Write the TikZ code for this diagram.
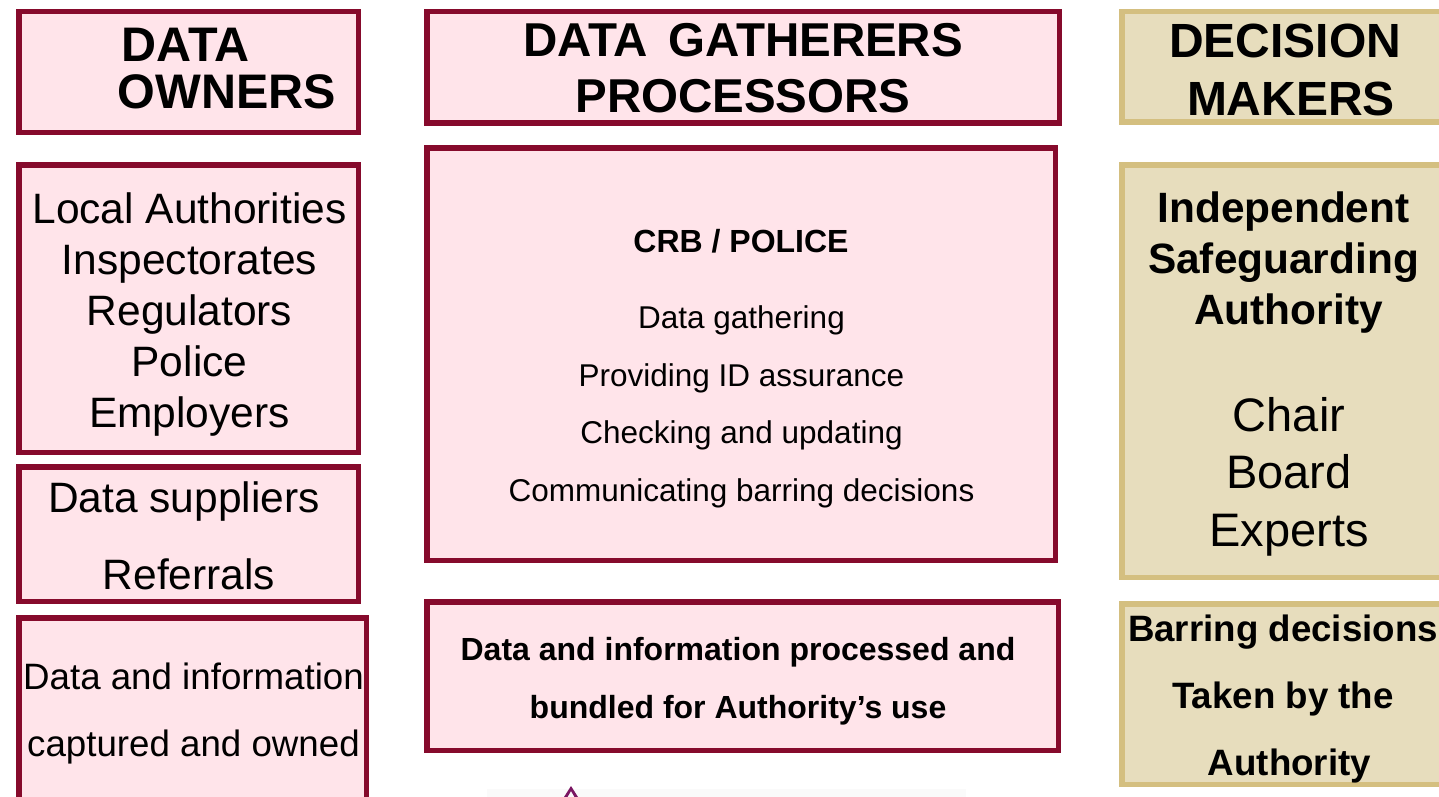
\documentclass[tikz,border=0pt]{standalone}
\usepackage{fontspec}
\setmainfont{Liberation Sans}
\definecolor{boxred}{RGB}{134,10,44}
\definecolor{boxpink}{RGB}{255,228,234}
\definecolor{boxtan}{RGB}{212,191,128}
\definecolor{boxsand}{RGB}{231,221,189}
\definecolor{logopurple}{RGB}{122,22,98}
\begin{document}
\begin{tikzpicture}[x=1pt,y=-1pt,
	pinkbox/.style={draw=boxred,fill=boxpink,line width=5.5pt,inner sep=0pt,outer sep=0pt},
	tanbox/.style={draw=boxtan,fill=boxsand,line width=5.5pt,inner sep=0pt,outer sep=0pt},
	txt/.style={align=center,inner sep=0pt}]
		\useasboundingbox (0,0) rectangle (1439,797);
		\clip (0,0) rectangle (1439,797);
		% column boxes
		\node[pinkbox,minimum width=339.5pt,minimum height=120.5pt](owners) at (188.5,72){};
		\node[pinkbox,minimum width=632.5pt,minimum height=111.5pt](gatherers) at (743,67.5){};
		\node[tanbox,minimum width=325.5pt,minimum height=110.5pt](makers) at (1284.5,67){};
		\node[pinkbox,minimum width=339.5pt,minimum height=287.5pt](bodies) at (188.5,308.5){};
		\node[pinkbox,minimum width=628.5pt,minimum height=412.5pt](crb) at (741,354){};
		\node[tanbox,minimum width=325.5pt,minimum height=412.5pt](isa) at (1284.5,371){};
		\node[pinkbox,minimum width=339.5pt,minimum height=134.5pt](suppliers) at (188.5,534){};
		\node[pinkbox,minimum width=347.5pt,minimum height=191.5pt](owned) at (192.5,713.5){};
		\node[pinkbox,minimum width=631.5pt,minimum height=148.5pt](bundled) at (742.5,676){};
		\node[tanbox,minimum width=325.5pt,minimum height=180.5pt](barring) at (1284.5,694){};
		% texts
		\node[txt,align=left,anchor=west,font=\bfseries\fontsize{48.5}{47}\selectfont](ownerstitle) at (117.5,69){\hspace*{4pt}DATA\\OWNERS};
		\node[txt,font=\bfseries\fontsize{47.5}{56}\selectfont](gathererstitle) at (743,68.5){DATA\hspace{0.15em} GATHERERS\\PROCESSORS};
		\node[txt,font=\bfseries\fontsize{48}{58}\selectfont](makerstitle) at (1285,69.5){DECISION\\\hspace*{12pt}MAKERS};
		\node[txt,font=\fontsize{42.5}{51}\selectfont](bodiestext) at (189.5,315){Local Authorities\\Inspectorates\\Regulators\\Police\\Employers};
		\node[txt,font=\fontsize{42.5}{77}\selectfont](supplierstext) at (184,535.5){Data suppliers\\\hspace*{10pt}Referrals};
		\node[txt,font=\fontsize{36.7}{67}\selectfont](ownedtext) at (193.5,713.5){Data and information\\captured and owned};
		\node[txt,font=\bfseries\fontsize{32}{38}\selectfont](crbtitle) at (741,241){CRB / POLICE};
		\node[txt,font=\fontsize{31.5}{57.7}\selectfont](crbtasks) at (741.5,407){Data gathering\\Providing ID assurance\\Checking and updating\\Communicating barring decisions};
		\node[txt,font=\bfseries\fontsize{32}{58}\selectfont](bundledtext) at (738,681.4){Data and information processed and\\bundled for Authority’s use};
		\node[txt,font=\bfseries\fontsize{42.4}{51}\selectfont](isaname) at (1283.5,262.5){Independent\\Safeguarding\\\hspace*{10pt}Authority};
		\node[txt,font=\fontsize{47}{57.5}\selectfont](isaroles) at (1289,476.5){Chair\\Board\\Experts};
		\node[txt,font=\bfseries\fontsize{36.7}{67}\selectfont](barringtext) at (1283,699){Barring decisions\\Taken by the\\\hspace*{13pt}Authority};
		% logo edge along the bottom
		\fill[black!2] (487,789) rectangle (966,797);
		\fill[logopurple] (564,797) -- (571,786) -- (578,797) -- (574.5,797) -- (571,791) -- (567.5,797) -- cycle;
		\end{tikzpicture}
\end{document}
